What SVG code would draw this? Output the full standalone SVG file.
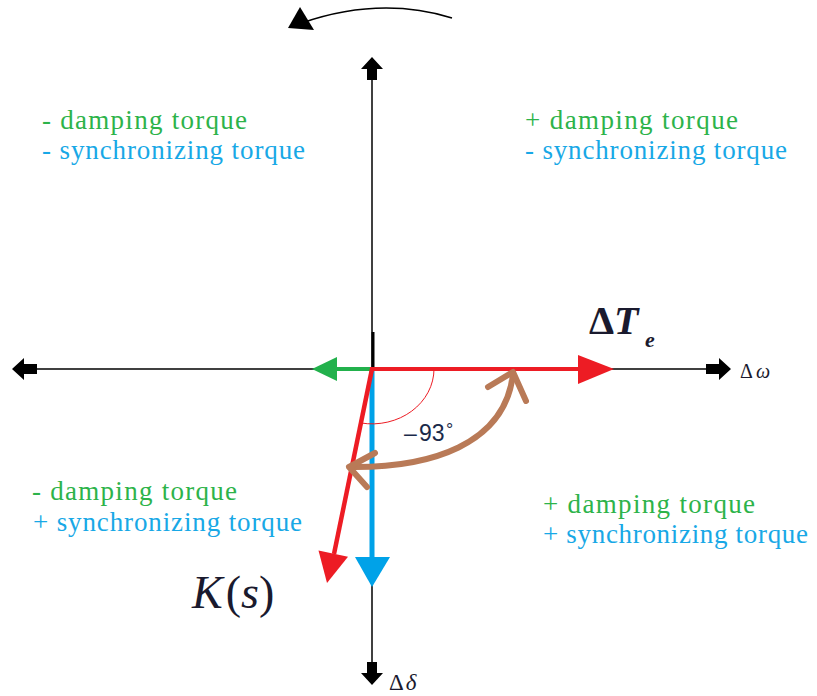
<svg xmlns="http://www.w3.org/2000/svg" width="817" height="696" viewBox="0 0 817 696">
<style>
.q{font-family:"Liberation Serif","Times New Roman",serif;font-size:27px}
.g{fill:#2db34a}
.b{fill:#18a8e6}
.ax{stroke:#000;stroke-width:1.5;fill:none}
.ah{fill:#000}
.m{font-family:"Liberation Serif","Times New Roman",serif;fill:#1a1a2e}
</style>
<rect width="817" height="696" fill="#fff"/>
<g id="connectors">
  <line class="ax" x1="372" y1="70" x2="372" y2="672"/>
  <line class="ax" x1="24" y1="369" x2="718" y2="369"/>
  <line x1="373" y1="332" x2="373" y2="369" stroke="#000" stroke-width="3"/>
  <polygon class="ah" points="372,57 383,69 377,69 377,80 367,80 367,69 361,69"/>
  <polygon class="ah" points="372,685 383,673 377,673 377,662 367,662 367,673 361,673"/>
  <polygon class="ah" points="12,369 24,358 24,364 37,364 37,374 24,374 24,380"/>
  <polygon class="ah" points="731,369 719,358 719,364 706,364 706,374 719,374 719,380"/>
  <path d="M452,18 Q380,-4 302,23" fill="none" stroke="#000" stroke-width="1.5"/>
  <polygon class="ah" points="288,28 300,7 314,30"/>
  <line x1="372" y1="371" x2="372" y2="560" stroke="#00a2e8" stroke-width="5"/>
  <polygon points="355,557 390,557 372,587" fill="#00a2e8"/>
  <line x1="372" y1="369" x2="334" y2="369" stroke="#22b14c" stroke-width="4"/>
  <polygon points="312,369 337,357 337,381" fill="#22b14c"/>
  <path d="M434,369 A62 55 0 0 1 361,423" fill="none" stroke="#ed1c24" stroke-width="1"/>
  <line x1="370" y1="369" x2="582" y2="369" stroke="#ed1c24" stroke-width="4"/>
  <polygon points="614,369 578,355 578,384" fill="#ed1c24"/>
  <line x1="372" y1="369" x2="334" y2="554" stroke="#ed1c24" stroke-width="4.5"/>
  <polygon points="327,583 348,556.7 318.5,550.5" fill="#ed1c24"/>
  <g fill="none" stroke="#b97a57" stroke-width="6" stroke-linecap="round" stroke-linejoin="round">
    <path d="M350,467 C430,468 505,445 513,374"/>
    <path d="M375,453 L349,467 L367,487"/>
    <path d="M488,387 L513,372 L526,401"/>
  </g>
</g>
<g id="q1">
  <text class="q g" x="525" y="129" textLength="213" lengthAdjust="spacing">+ damping torque</text>
  <text class="q b" x="525" y="159" textLength="262" lengthAdjust="spacing">- synchronizing torque</text>
</g>
<g id="q2">
  <text class="q g" x="42" y="129" textLength="205" lengthAdjust="spacing">- damping torque</text>
  <text class="q b" x="42" y="159" textLength="263" lengthAdjust="spacing">- synchronizing torque</text>
</g>
<g id="q3">
  <text class="q g" x="32" y="500" textLength="205" lengthAdjust="spacing">- damping torque</text>
  <text class="q b" x="33" y="531" textLength="269" lengthAdjust="spacing">+ synchronizing torque</text>
</g>
<g id="q4">
  <text class="q g" x="543" y="513" textLength="212" lengthAdjust="spacing">+ damping torque</text>
  <text class="q b" x="543" y="543" textLength="265" lengthAdjust="spacing">+ synchronizing torque</text>
</g>
<g id="label-dTe">
  <text class="m" x="589" y="334" font-size="40" font-weight="bold">Δ<tspan font-style="italic">T</tspan></text>
  <text class="m" x="645" y="347" font-size="22" font-style="italic" font-weight="bold">e</text>
</g>
<g id="label-dw">
  <text class="m" x="740" y="378" font-size="20">Δ<tspan dx="3" font-style="italic">ω</tspan></text>
</g>
<g id="label-dd">
  <text class="m" x="389" y="690" font-size="23">Δ<tspan dx="2" font-style="italic">δ</tspan></text>
</g>
<g id="label-Ks">
  <text class="m" x="192" y="608" font-size="46"><tspan font-style="italic">K</tspan><tspan dx="3">(</tspan><tspan font-style="italic">s</tspan>)</text>
</g>
<g id="label-angle">
  <text y="441" font-family="Liberation Sans, Arial, sans-serif" font-size="23" fill="#1a2a4a"><tspan x="404">–</tspan><tspan x="419">93</tspan><tspan x="446" font-size="18" dy="-5">°</tspan></text>
</g>
</svg>
